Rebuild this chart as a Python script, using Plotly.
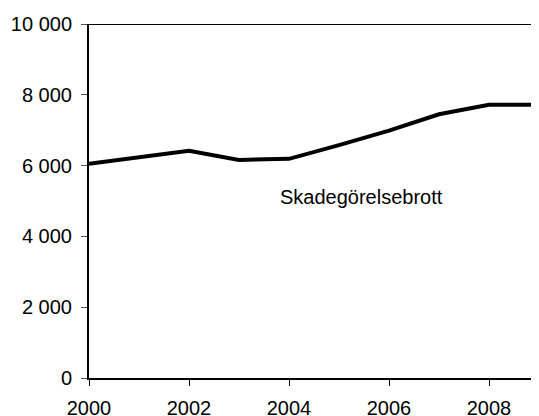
import plotly.graph_objects as go

years = [2000, 2001, 2002, 2003, 2004, 2005, 2006, 2007, 2008, 2009]
skadegorelsebrott = [6050, 6230, 6420, 6160, 6190, 6580, 6990, 7450, 7720, 7720]
y_ticks = [0, 2000, 4000, 6000, 8000, 10000]
y_tick_labels = ["0", "2 000", "4 000", "6 000", "8 000", "10 000"]
x_ticks = [2000, 2002, 2004, 2006, 2008]
label_text = "Skadegörelsebrott"

fig = go.Figure()
fig.add_trace(go.Scatter(
    x=years, y=skadegorelsebrott, mode="lines",
    line=dict(color="black", width=4), showlegend=False, cliponaxis=False,
))

fig.add_annotation(x=2005.45, y=5100, text=label_text, showarrow=False,
                   font=dict(size=20, color="black"))

fig.add_shape(type="line", xref="paper", yref="y", x0=0, x1=1, y0=10000, y1=10000,
              line=dict(color="black", width=2))

# page body has an 8px margin; figure size/margins compensate for it
fig.update_layout(
    width=531, height=408,
    margin=dict(l=81, r=0, t=16, b=38),
    paper_bgcolor="white", plot_bgcolor="white",
    font=dict(family="Liberation Sans, Arial, sans-serif", size=20, color="black"),
    xaxis=dict(range=[2000, 2009], tickvals=x_ticks, ticktext=[str(v) for v in x_ticks],
               showgrid=False, zeroline=False, showline=True, linecolor="black", linewidth=2,
               ticks="outside", ticklen=6, tickcolor="black", tickwidth=1,
               ticklabelstandoff=5, automargin=False),
    yaxis=dict(range=[0, 10000], tickvals=y_ticks, ticktext=y_tick_labels,
               showgrid=False, zeroline=False, showline=True, linecolor="black", linewidth=2,
               ticks="outside", ticklen=6, tickcolor="#555", tickwidth=1,
               ticklabelstandoff=5, automargin=False),
)

fig.write_html("out.html")
